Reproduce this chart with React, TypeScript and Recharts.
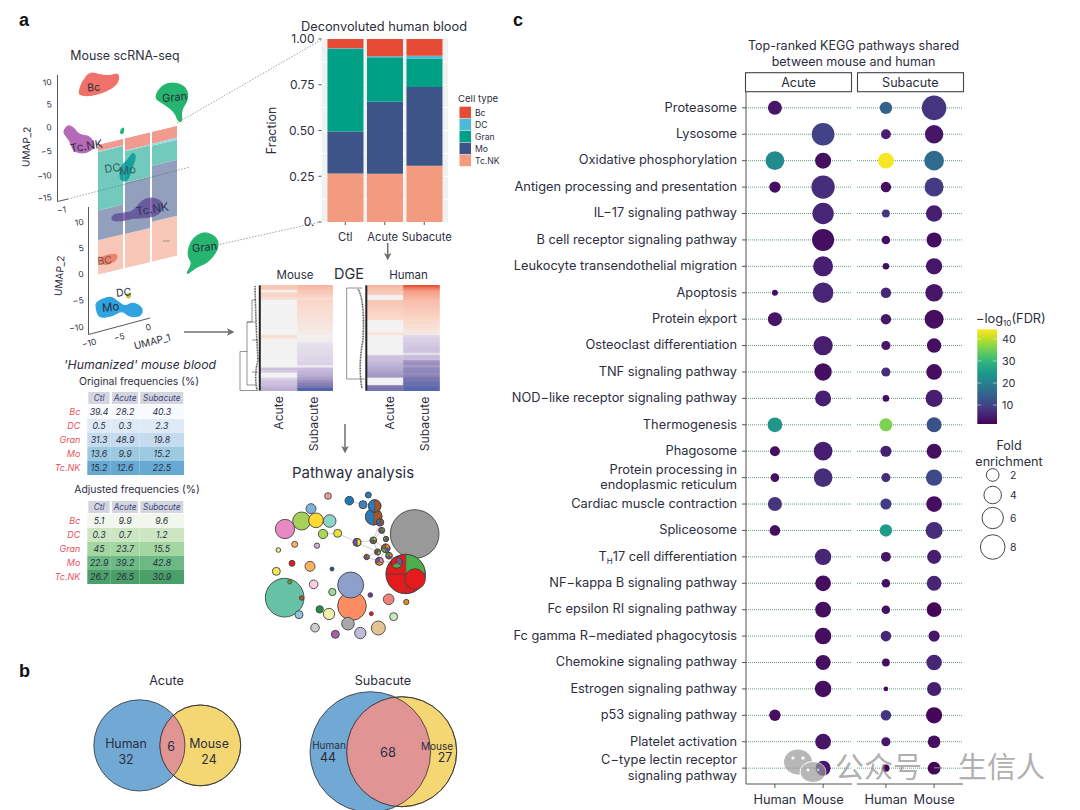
import React from 'react';
import {
  BarChart, Bar, XAxis, YAxis, ZAxis, CartesianGrid, ScatterChart, Scatter, Cell, ReferenceLine,
} from 'recharts';

const FONT = 'Inter, "Noto Sans", sans-serif';
const INK = '#2c2e3e';

// ---- stacked fractions
const groups = ['Ctl', 'Acute', 'Subacute'];
const tcnk = [0.265, 0.264, 0.308];
const mo = [0.23, 0.393, 0.43];
const gran = [0.45, 0.243, 0.155];
const dc = [0.005, 0.006, 0.016];
const bc = [0.05, 0.094, 0.091];
const fracTicks = [0, 0.25, 0.5, 0.75, 1];
const fracGrid = [0.125, 0.25, 0.375, 0.5, 0.625, 0.75, 0.875];
const cellTypes = ['Bc', 'DC', 'Gran', 'Mo', 'Tc.NK'];
const cellColors = ['#e64b35', '#4dbbd5', '#00a087', '#3c5488', '#f39b7f'];
const fracData = groups.map((name, i) => ({ name, tcnk: tcnk[i], mo: mo[i], gran: gran[i], dc: dc[i], bc: bc[i] }));

// ---- frequency tables
const tableRows = ['Bc', 'DC', 'Gran', 'Mo', 'Tc.NK'];
const tableCols = ['Ctl', 'Acute', 'Subacute'];
const origCtl = ['39.4', '0.5', '31.3', '13.6', '15.2'];
const origAcute = ['28.2', '0.3', '48.9', '9.9', '12.6'];
const origSub = ['40.3', '2.3', '19.8', '15.2', '22.5'];
const adjCtl = ['5.1', '0.3', '45', '22.9', '26.7'];
const adjAcute = ['9.9', '0.7', '23.7', '39.2', '26.5'];
const adjSub = ['9.6', '1.2', '15.5', '42.8', '30.9'];
const blues = ['#f7fbff', '#deebf7', '#c6dbef', '#9ecae1', '#66a9d3'];
const greens = ['#f1f7ec', '#cce6c4', '#a3d6a0', '#6cb985', '#4b9f69'];

// ---- heatmaps (row values, top to bottom)
const mouseAcute = [0.45, 0.45, 0.04, 0.35, 0.35, 0.25, 0, 0, 0, 0, 0, 0, 0, 0, 0, 0, 0, 0, 0, 0, 0.3, 0.1, 0, 0, 0, 0, 0, 0, 0, 0, 0, 0, 0, -0.3, -0.25, 0, 0, -0.2, -0.3, -0.3, -0.35, -0.4];
const mouseSub = [0.55, 0.5, 0.45, 0.42, 0.38, 0.3, 0.36, 0.34, 0.32, 0.3, 0.28, 0.26, 0.24, 0.22, 0.2, 0.18, 0.16, 0.14, 0.12, 0.1, 0.02, 0.06, -0.04, -0.1, -0.12, -0.13, -0.14, -0.15, -0.16, -0.17, -0.18, -0.2, -0.06, -0.32, -0.36, -0.38, -0.42, -0.48, -0.55, -0.62, -0.7, -0.95];
const humanAcute = [0.55, 0.5, 0.45, 0.42, 0, 0, 0.45, 0.44, 0.42, 0.4, 0.38, 0.36, 0.35, 0.34, 0, 0, 0, 0, 0, 0.22, 0, 0, 0, 0, 0, 0, 0, 0, -0.28, -0.3, -0.33, -0.36, -0.4, -0.42, -0.45, -0.48, -0.52, 0, 0, 0, -0.65, -0.72];
const humanSub = [0.95, 0.8, 0.7, 0.65, 0.6, 0.55, 0.5, 0.48, 0.46, 0.44, 0.42, 0.4, 0.38, 0.36, 0.34, 0.3, 0.26, 0.22, 0.18, 0.14, -0.16, -0.2, -0.22, -0.24, -0.26, -0.28, -0.3, -0.12, -0.34, -0.3, -0.52, -0.55, -0.5, -0.58, -0.6, -0.56, -0.62, -0.7, -0.74, -0.8, -0.86, -0.92];

// ---- KEGG dot plot
const pathways = [
  'Proteasome', 'Lysosome', 'Oxidative phosphorylation', 'Antigen processing and presentation',
  'IL\u221217 signaling pathway', 'B cell receptor signaling pathway', 'Leukocyte transendothelial migration',
  'Apoptosis', 'Protein export', 'Osteoclast differentiation', 'TNF signaling pathway',
  'NOD\u2212like receptor signaling pathway', 'Thermogenesis', 'Phagosome',
  'Protein processing in\nendoplasmic reticulum', 'Cardiac muscle contraction', 'Spliceosome',
  'TH17 cell differentiation', 'NF\u2212kappa B signaling pathway', 'Fc epsilon RI signaling pathway',
  'Fc gamma R\u2212mediated phagocytosis', 'Chemokine signaling pathway', 'Estrogen signaling pathway',
  'p53 signaling pathway', 'Platelet activation', 'C\u2212type lectin receptor\nsignaling pathway',
];
const N = null;
const acuteHumanFold = [2.5, N, 4.55, 1.57, N, N, N, 0.32, 2.5, N, N, N, 2.75, 1.2, 0.85, 2.5, 1.37, N, N, N, N, N, N, 1.6, N, N];
const acuteHumanFdr = [4, N, 22, 3, N, N, N, 3, 4, N, N, N, 24, 3, 3, 8, 3, N, N, N, N, N, N, 3, N, N];
const acuteMouseFold = [N, 6.8, 3.3, 7.2, 6.0, 6.4, 5.25, 5.6, N, 4.9, 3.9, 3.3, N, 4.55, 4.55, N, N, 3.5, 3.2, 3.2, 3.5, 2.9, 3.5, N, 3.2, 2.9];
const acuteMouseFdr = [N, 10, 3, 7, 6, 3, 5, 6, N, 5, 3, 5, N, 5, 7, N, N, 6, 3, 3, 3, 3, 3, N, 4, 4];
const subHumanFold = [2.0, 1.2, 3.3, 1.37, 0.7, 0.85, 0.44, 1.37, 1.37, 1.0, 1.0, 0.44, 2.24, 1.57, 1.0, 1.57, 2.0, 1.2, 0.85, 0.85, 1.4, 0.68, 0.13, 1.4, 1.0, 0.54];
const subHumanFdr = [15, 5, 44, 3, 8, 3, 3, 6, 4, 4, 7, 3, 36, 5, 7, 9, 25, 4, 3, 3, 6, 3, 3, 8, 4, 2];
const subMouseFold = [8.3, 4.55, 5.25, 4.9, 3.6, 3.0, 3.6, 4.2, 4.9, 2.75, 3.3, 3.9, 3.0, 3.0, 3.6, 3.3, 3.9, 2.6, 2.9, 2.9, 1.6, 3.2, 2.6, 3.5, 2.1, 2.1];
const subMouseFdr = [8, 4, 16, 9, 5, 3, 4, 4, 3, 3, 3, 5, 12, 3, 11, 3, 7, 5, 6, 2, 4, 6, 5, 2, 3, 2];
const foldLegend = [2, 4, 6, 8];
const fdrTicks = [40, 30, 20, 10];

const viridis = ['#440154', '#482173', '#433e85', '#38588c', '#2d708e', '#25858e', '#1e9b8a', '#2ab07f', '#51c56a', '#85d54a', '#c2df23', '#fde725'];

// ---- pathway network, in layout units
const networkNodes = [
  { x: 234, y: 108, d: 20, c: ['#ee9aa2'] }, { x: 298, y: 122, d: 26, c: ['#1f78b4'] }, { x: 355, y: 105, d: 18, c: ['#2b7bba'] },
  { x: 339, y: 134, d: 24, c: ['#3a85c0'] }, { x: 371, y: 170, d: 50, c: ['#a6562a', '#2b7bba'] }, { x: 374, y: 138, d: 38, c: ['#a6562a', '#2b7bba'] },
  { x: 390, y: 187, d: 22, c: ['#a6562a', '#7b4fa3', '#2b7bba'] }, { x: 395, y: 211, d: 18, c: ['#4daf4a', '#7b4fa3', '#a6562a'] },
  { x: 183, y: 146, d: 30, c: ['#7fb2d9'] }, { x: 155, y: 183, d: 54, c: ['#a6d05a'] }, { x: 239, y: 183, d: 38, c: ['#8dd3c7'] },
  { x: 198, y: 181, d: 44, c: ['#ffd92f'] }, { x: 105, y: 207, d: 58, c: ['#e78ac3'] }, { x: 219, y: 222, d: 28, c: ['#a6d854'] },
  { x: 263, y: 220, d: 24, c: ['#e8e23c'] }, { x: 134, y: 253, d: 18, c: ['#fdb462'] }, { x: 201, y: 257, d: 16, c: ['#c9b3dc'] },
  { x: 85, y: 270, d: 14, c: ['#f2ea82'] }, { x: 494, y: 222, d: 146, c: ['#999999'] },
  { x: 321, y: 247, d: 24, c: ['#e8e23c', '#7b4fa3'] }, { x: 370, y: 241, d: 20, c: ['#e8e23c', '#a6562a', '#7b4fa3', '#4daf4a'] },
  { x: 408, y: 237, d: 16, c: ['#a6562a', '#7b4fa3', '#4daf4a'] }, { x: 407, y: 265, d: 26, c: ['#e8891c', '#7b4fa3', '#4daf4a', '#a6562a'] },
  { x: 383, y: 276, d: 18, c: ['#4daf4a', '#e8e23c', '#7b4fa3', '#a6562a'] }, { x: 417, y: 287, d: 20, c: ['#e8891c', '#7b4fa3', '#4daf4a'] },
  { x: 350, y: 291, d: 16, c: ['#e8891c', '#7b4fa3', '#a6562a'] }, { x: 388, y: 304, d: 24, c: ['#e78ac3', '#e8891c', '#7b4fa3'] },
  { x: 79, y: 334, d: 24, c: ['#f2e65a'] }, { x: 126, y: 310, d: 18, c: ['#e41a1c'] }, { x: 180, y: 319, d: 30, c: ['#fbb25e'] },
  { x: 246, y: 327, d: 12, c: ['#2c4a9e'] }, { x: 467, y: 342, d: 118, c: ['#4daf4a', '#e41a1c', '#e41a1c', '#e41a1c'] },
  { x: 495, y: 357, d: 62, c: ['#e41a1c'] }, { x: 440, y: 308, d: 34, c: ['#7b4fa3', '#4daf4a', '#e41a1c'] },
  { x: 191, y: 373, d: 26, c: ['#fccde5'] }, { x: 104, y: 413, d: 116, c: ['#66c2a5'] }, { x: 119, y: 366, d: 12, c: ['#66a61e'] },
  { x: 155, y: 414, d: 14, c: ['#a6562a'] }, { x: 147, y: 464, d: 24, c: ['#8ec4e0'] }, { x: 306, y: 438, d: 86, c: ['#fc8d62'] },
  { x: 302, y: 375, d: 78, c: ['#8da0cb'] }, { x: 247, y: 396, d: 22, c: ['#a1d99b'] }, { x: 361, y: 405, d: 14, c: ['#6a3d9a'] },
  { x: 416, y: 418, d: 32, c: ['#f4807a'] }, { x: 469, y: 426, d: 16, c: ['#e8891c'] }, { x: 364, y: 461, d: 12, c: ['#e41a1c'] },
  { x: 431, y: 470, d: 24, c: ['#c7e9c0'] }, { x: 209, y: 448, d: 22, c: ['#238b45'] }, { x: 237, y: 462, d: 34, c: ['#eef0a8'] },
  { x: 294, y: 491, d: 38, c: ['#a8a8a8'] }, { x: 195, y: 503, d: 26, c: ['#cccccc'] }, { x: 256, y: 523, d: 24, c: ['#a65fa8'] },
  { x: 331, y: 519, d: 34, c: ['#bebada'] }, { x: 385, y: 504, d: 42, c: ['#e5c494'] },
];
const networkEdges = [
  [263, 220, 321, 247], [321, 247, 370, 241], [370, 241, 395, 211], [370, 241, 407, 265], [370, 241, 383, 276], [395, 211, 408, 237],
  [408, 237, 407, 265], [383, 276, 407, 265], [383, 276, 350, 291], [383, 276, 388, 304], [407, 265, 388, 304], [350, 291, 388, 304],
  [417, 287, 407, 265], [388, 304, 440, 308], [298, 122, 339, 134], [390, 187, 370, 241], [219, 222, 263, 220], [321, 247, 383, 276],
];

// ---- Venn counts
const vennAcute = { human: 32, shared: 6, mouse: 24 };
const vennSub = { human: 44, shared: 68, mouse: 27 };

const mixHex = (a: string, b: string, t: number) => {
  const p = (s: string, i: number) => parseInt(s.slice(i, i + 2), 16);
  const ch = (i: number) => Math.round(p(a, i) + (p(b, i) - p(a, i)) * t).toString(16).padStart(2, '0');
  return `#${ch(1)}${ch(3)}${ch(5)}`;
};
const ramp = (stops: string[], t: number) => {
  const u = Math.min(0.9999, Math.max(0, t)) * (stops.length - 1);
  const i = Math.floor(u);
  return mixHex(stops[i], stops[i + 1], u - i);
};
const fdrColor = (v: number) => ramp(viridis, (v - 1.4) / 43);
const heatColor = (v: number) => {
  if (v >= 0) return ramp(['#f3f3f3', '#fad9cc', '#f7a58e', '#e8432e'], v);
  return ramp(['#f3f3f3', '#c9bbdc', '#7f78b0', '#4a62ac'], -v);
};

const rowPoints = (fold: (number | null)[], fdr: (number | null)[], col: number) =>
  pathways.map((_, i) => ({ x: col, y: i, fold: fold[i], fdr: fdr[i] })).filter((p) => p.fold != null);

const Dot = (props: any) => {
  const { cx, cy, size, payload } = props;
  return <circle cx={cx} cy={cy} r={Math.sqrt(size / Math.PI)} fill={fdrColor(payload.fdr)} />;
};

const PathwayTick = (props: any) => {
  const { x, y, payload } = props;
  const label = pathways[payload.value];
  if (label == null) return null;
  const common = { x: x - 3, textAnchor: 'end' as const, fontSize: 12.8, fill: INK, fontFamily: FONT };
  if (label.startsWith('TH17')) {
    return (
      <text {...common} y={y + 3.8}>
        T<tspan fontSize={8} dy={3}>H</tspan><tspan dy={-3}>17 cell differentiation</tspan>
      </text>
    );
  }
  const lines = label.split('\n');
  if (lines.length === 2) {
    return (
      <g>
        <text {...common} y={y - 4}>{lines[0]}</text>
        <text {...common} y={y + 11.5}>{lines[1]}</text>
      </g>
    );
  }
  return <text {...common} y={y + 3.8}>{label}</text>;
};

// the group labels sit a little apart from their ticks in the figure
const groupNudge = [0, -2, 2.5];
const GroupTick = (props: any) => {
  const { x, y, payload, index } = props;
  return (
    <text x={x + groupNudge[index]} y={y + 14} textAnchor="middle" fontSize={11.2} fill={INK} fontFamily={FONT}>
      {payload.value}
    </text>
  );
};

const rowIndex = pathways.map((_, i) => i);
const gridColor = '#5f9f78';

const DotPanel = ({ series, showLabels, left, width }: any) => (
  <div style={{ position: 'absolute', left, top: 91.5 }}>
    <ScatterChart width={width} height={716} margin={{ top: 0, right: 0, bottom: 0, left: 0 }}>
      <CartesianGrid horizontal vertical={false} stroke={gridColor} strokeDasharray="1 1" horizontalValues={rowIndex} />
      <XAxis
        type="number" dataKey="x" domain={[-0.6, 1.6]} ticks={[0, 1]} interval={0} height={24}
        tickFormatter={(v: number) => (v === 0 ? 'Human' : 'Mouse')} tickMargin={7}
        tick={{ fontSize: 12.8, fill: INK, fontFamily: FONT }} stroke="#555" tickSize={4}
      />
      <YAxis
        type="number" dataKey="y" domain={[-0.6, 25.6]} reversed ticks={rowIndex} interval={0}
        width={showLabels ? 246 : 0} hide={!showLabels} stroke="#555" tickSize={4} tick={<PathwayTick />}
      />
      <ZAxis type="number" dataKey="fold" domain={[0, 8]} range={[9.4, 474]} />
      {series.map((s: any, i: number) => (
        <Scatter key={i} data={s} shape={<Dot />} isAnimationActive={false} />
      ))}
    </ScatterChart>
  </div>
);

const HeatMap = ({ left, a, b }: any) => {
  const data = a.map((v: number, i: number) => ({ row: i, a: 1, b: 1 }));
  return (
    <div style={{ position: 'absolute', left, top: 285.3 }}>
      <BarChart width={72.7} height={105.4} layout="vertical" data={data} barCategoryGap={0} margin={{ top: 0, right: 0, bottom: 0, left: 0 }}>
        <XAxis type="number" domain={[0, 2]} hide />
        <YAxis type="category" dataKey="row" hide />
        <Bar dataKey="a" stackId="h" isAnimationActive={false}>
          {a.map((v: number, i: number) => <Cell key={i} fill={heatColor(v)} stroke={heatColor(v)} strokeWidth={0.3} />)}
        </Bar>
        <Bar dataKey="b" stackId="h" isAnimationActive={false}>
          {b.map((v: number, i: number) => <Cell key={i} fill={heatColor(v)} stroke={heatColor(v)} strokeWidth={0.3} />)}
        </Bar>
      </BarChart>
    </div>
  );
};

const colWidths = [23.5, 28.5, 45];
const FreqTable = ({ top, cols, shades }: any) => {
  const rows = ['', ...tableRows];
  const data = rows.map((name) => ({ name, c0: colWidths[0], c1: colWidths[1], c2: colWidths[2] }));
  return (
    <div style={{ position: 'absolute', left: 30, top }}>
      <BarChart width={154.3} height={84} layout="vertical" data={data} barCategoryGap={0} margin={{ top: 0, right: 0, bottom: 0, left: 0 }}>
        <XAxis type="number" domain={[0, 97]} hide />
        <YAxis
          type="category" dataKey="name" width={57.3} axisLine={false} tickLine={false} interval={0} tickMargin={1}
          tick={{ fontSize: 9, fontStyle: 'italic', fill: '#e8505b', fontFamily: FONT }}
        />
        {[0, 1, 2].map((c) => (
          <Bar
            key={c} dataKey={`c${c}`} stackId="t" isAnimationActive={false}
            label={(p: any) => {
              const isHead = p.index === 0;
              const text = isHead ? tableCols[c] : cols[c][p.index - 1];
              return (
                <text
                  x={p.x + p.width / 2} y={p.y + p.height / 2 + 3} textAnchor="middle" fontSize={isHead ? 8.3 : 8.8}
                  fontStyle="italic" fill={isHead ? '#45467a' : '#2c2e3e'} fontFamily={FONT}
                >{text}</text>
              );
            }}
          >
            {rows.map((_, i) => (
              i === 0
                ? <Cell key={i} fill="#d3d6df" stroke="#fff" strokeWidth={2} />
                : <Cell key={i} fill={shades[i - 1]} />
            ))}
          </Bar>
        ))}
      </BarChart>
    </div>
  );
};

const Txt = ({ x, y, s = 12, a = 'middle', rot, children, ...rest }: any) => (
  <text
    x={x} y={y} fontSize={s} textAnchor={a} fill={INK} fontFamily={FONT}
    transform={rot != null ? `rotate(${rot} ${x} ${y})` : undefined} {...rest}
  >{children}</text>
);

// rounded outline through hand-placed points, used for the UMAP clusters
const Blob = ({ pts, fill }: { pts: number[][]; fill: string }) => {
  const mid = (a: number[], b: number[]) => [(a[0] + b[0]) / 2, (a[1] + b[1]) / 2];
  const start = mid(pts[pts.length - 1], pts[0]);
  let d = `M${start[0]} ${start[1]}`;
  pts.forEach((p, i) => {
    const m = mid(p, pts[(i + 1) % pts.length]);
    d += ` Q${p[0]} ${p[1]} ${m[0]} ${m[1]}`;
  });
  return <path d={d + ' Z'} fill={fill} stroke={fill} strokeWidth={1.2} />;
};

const layer: React.CSSProperties = { position: 'absolute', left: 0, top: 0, pointerEvents: 'none' };

const UnderLayer = () => (
  <svg width={1080} height={810} style={layer}>
    {/* projection guides */}
    <g stroke="#888" strokeDasharray="1.5 1.5" strokeWidth={0.8} fill="none">
      <path d="M177 123 L321 40" />
      <path d="M68 199 L190 167" />
      <path d="M217 245 L320 222" />
    </g>
    {/* upper UMAP */}
    <path d="M57.5 75 V201.5 L68 199" stroke="#444" strokeWidth={0.9} fill="none" />
    {[[81.7, '10'], [104, '5'], [127, '0'], [150.7, '\u22125'], [175, '\u221210'], [197, '\u221215']].map(([y, t]: any) => (
      <Txt key={t} x={52} y={y + 3} s={8.5} a="end" rot={-8}>{t}</Txt>
    ))}
    <Txt x={62} y={213} s={8.5} rot={-8}>{'\u22121'}</Txt>
    <Txt x={30} y={147} s={10} rot={-88}>UMAP_2</Txt>
    <Blob fill="#f0706a" pts={[[79, 92], [82, 82], [90, 72], [100, 75], [110, 76], [119, 73], [118, 84], [105, 92], [90, 96], [80, 95]]} />
    <Blob fill="#25b56f" pts={[[154, 98], [162, 85], [175, 82], [187, 88], [188, 100], [181, 110], [182, 122], [178, 121], [175, 112], [163, 103]]} />
    <Blob fill="#b56ab8" pts={[[64, 130], [68, 125], [74, 128], [79, 135], [90, 136], [96, 147], [84, 154], [73, 151], [70, 140], [64, 134]]} />
    <Blob fill="#25b56f" pts={[[122, 128], [124, 128], [123, 134], [120, 133]]} />
    {/* lower UMAP */}
    <path d="M88.5 207 V334.5 L150 318" stroke="#444" strokeWidth={0.9} fill="none" />
    {[[221.7, '10'], [247.7, '5'], [273.7, '0'], [300, '\u22125'], [326.7, '\u221210']].map(([y, t]: any) => (
      <Txt key={t} x={84} y={y + 3} s={8.5} a="end" rot={-8}>{t}</Txt>
    ))}
    <Txt x={90} y={346} s={8.5} rot={-15}>{'\u221210'}</Txt>
    <Txt x={120} y={340} s={8.5} rot={-15}>{'\u22125'}</Txt>
    <Txt x={149} y={330} s={8.5} rot={-15}>0</Txt>
    <Txt x={153} y={345} s={10} rot={-14}>UMAP_1</Txt>
    <Txt x={63} y={276} s={10} rot={-86}>UMAP_2</Txt>
    <Blob fill="#25b56f" pts={[[185, 276], [193, 263], [187, 256], [191, 240], [204, 231], [218, 238], [218, 250], [207, 263], [196, 267]]} />
    <Blob fill="#2fa4e0" pts={[[96, 302], [110, 296], [117, 301], [125, 307], [133, 302], [143, 308], [141, 316], [130, 317], [122, 310], [113, 316], [99, 318], [96, 308]]} />
    <Blob fill="#b6c23a" pts={[[126, 294], [131, 293], [130, 298], [127, 298]]} />
    <Blob fill="#9a6ab8" pts={[[112, 215], [122, 213], [133, 212], [142, 200], [153, 197], [164, 203], [160, 214], [148, 218], [133, 218], [122, 221], [112, 221]]} />
    <Blob fill="#30a5b5" pts={[[120, 167], [128, 160], [133, 152], [136, 157], [132, 167], [128, 181], [120, 181]]} />
    <Blob fill="#e06a5e" pts={[[100, 257], [117, 253], [117, 260], [107, 265], [100, 263]]} />
    <path d="M163 241 L170 241" stroke="#4b8f5a" strokeWidth={1} />
  </svg>
);

const TopLayer = () => (
  <svg width={1080} height={810} style={layer}>
    <defs>
      <linearGradient id="fdr" x1="0" y1="1" x2="0" y2="0">
        {viridis.map((c, i) => <stop key={c} offset={i / (viridis.length - 1)} stopColor={c} />)}
      </linearGradient>
      <clipPath id="vennA"><circle cx={200.3} cy={745.4} r={40.4} /></clipPath>
      <clipPath id="vennS"><circle cx={401.7} cy={751.7} r={55} /></clipPath>
      <marker id="arrow" markerWidth="5" markerHeight="5" refX="3.4" refY="2.5" orient="auto">
        <path d="M0 0 L5 2.5 L0 5 L1.2 2.5 Z" fill="#6f6f6f" />
      </marker>
    </defs>

    <text x={19} y={26} fontSize={18} fontWeight={700} fontFamily="Liberation Sans, sans-serif" fill="#111">a</text>
    <text x={19} y={677} fontSize={18} fontWeight={700} fontFamily="Liberation Sans, sans-serif" fill="#111">b</text>
    <text x={513} y={26} fontSize={18} fontWeight={700} fontFamily="Liberation Sans, sans-serif" fill="#111">c</text>

    {/* UMAP titles and cluster names */}
    <Txt x={125} y={60} s={12.4}>Mouse scRNA-seq</Txt>
    <Txt x={94} y={91} s={10.5} rot={-5}>Bc</Txt>
    <Txt x={175} y={101} s={11} rot={-6}>Gran</Txt>
    <Txt x={87} y={150} s={11.5} rot={-9}>Tc.NK</Txt>
    <Txt x={113} y={172} s={11} fill="#2f5a58" rot={-8}>DC</Txt>
    <Txt x={128} y={174} s={11} fill="#2f5a58" rot={-8}>Mo</Txt>
    <Txt x={153} y={213} s={11.5} rot={-9} fill="#2b3555">Tc.NK</Txt>
    <Txt x={105} y={264} s={10.5} rot={-5} fill="#8a4b45">BC</Txt>
    <Txt x={205} y={251} s={11} rot={-6}>Gran</Txt>
    <Txt x={111} y={311} s={11.5} rot={-6}>Mo</Txt>
    <Txt x={124} y={296} s={10.5} rot={-6}>DC</Txt>

    <Txt x={384} y={30.5} s={12.8}>Deconvoluted human blood</Txt>

    {/* stacked bar legend */}
    <Txt x={458} y={102} s={9.6} a="start">Cell type</Txt>
    {cellTypes.map((t, i) => (
      <g key={t}>
        <rect x={459.5} y={106.7 + i * 12} width={11.5} height={11.5} fill={cellColors[i]} />
        <Txt x={475} y={115.5 + i * 12} s={8.6} a="start">{t}</Txt>
      </g>
    ))}
    <path d="M387.7 243 V258" stroke="#6f6f6f" strokeWidth={1.5} markerEnd="url(#arrow)" />
    <path d="M184 332 H232" stroke="#6f6f6f" strokeWidth={1.5} markerEnd="url(#arrow)" />
    <path d="M345 424 V451" stroke="#6f6f6f" strokeWidth={1.5} markerEnd="url(#arrow)" />

    {/* DGE */}
    <Txt x={295} y={279} s={11.5}>Mouse</Txt>
    <Txt x={349} y={279} s={14.5}>DGE</Txt>
    <Txt x={408.5} y={279} s={11.5}>Human</Txt>
    <Txt x={283} y={413} s={12.2} rot={-90}>Acute</Txt>
    <Txt x={318} y={424} s={12.2} rot={-90}>Subacute</Txt>
    <Txt x={393.5} y={413} s={12.2} rot={-90}>Acute</Txt>
    <Txt x={429} y={424} s={12.2} rot={-90}>Subacute</Txt>
    <g stroke="#666" strokeWidth={0.7} fill="none">
      <path d="M258 390.5 H240 V351.5 H247 V322 H256 M247 351 V385 H256 M247 322 H252 V300 H256 M252 340 H258 M252 372 H258" />
      <path d="M365 379 H346.7 V288 H362" />
    </g>
    <g stroke="#555" strokeWidth={1.6} fill="none" strokeDasharray="1 0.6">
      <path d="M255 286 Q256 330 258 360 Q254 375 257 390" />
      <path d="M358 289 Q365 300 363 340 Q358 365 362 389" />
    </g>
    <rect x={258.8} y={285.3} width={2} height={105.4} fill="#222" />
    <rect x={365.3} y={285.3} width={2} height={105.4} fill="#222" />

    <Txt x={353} y={478} s={15}>Pathway analysis</Txt>

    {/* tables headings */}
    <Txt x={140} y={369} s={12.3} fontStyle="italic">'Humanized' mouse blood</Txt>
    <Txt x={139} y={384.5} s={10.4}>Original frequencies (%)</Txt>
    <Txt x={137} y={493} s={10.4}>Adjusted frequencies (%)</Txt>

    {/* Venn b */}
    <Txt x={166.5} y={685} s={12.6}>Acute</Txt>
    <circle cx={139.4} cy={745.4} r={45.6} fill="#72a9d4" stroke="#333" strokeWidth={0.8} />
    <circle cx={200.3} cy={745.4} r={40.4} fill="#f4d772" stroke="#333" strokeWidth={0.8} />
    <circle cx={139.4} cy={745.4} r={45.6} fill="#e09494" stroke="#333" strokeWidth={0.8} clipPath="url(#vennA)" />
    <circle cx={200.3} cy={745.4} r={40.4} fill="none" stroke="#333" strokeWidth={0.8} />
    <Txt x={126} y={748} s={12.4}>Human</Txt>
    <Txt x={126} y={763.5} s={12.4}>{vennAcute.human}</Txt>
    <Txt x={171} y={751} s={12.4}>{vennAcute.shared}</Txt>
    <Txt x={209} y={748} s={12.4}>Mouse</Txt>
    <Txt x={209} y={763.5} s={12.4}>{vennAcute.mouse}</Txt>
    <Txt x={383} y={685} s={12.6}>Subacute</Txt>
    <circle cx={370.3} cy={752} r={60.3} fill="#72a9d4" stroke="#333" strokeWidth={0.8} />
    <circle cx={401.7} cy={751.7} r={55} fill="#f4d772" stroke="#333" strokeWidth={0.8} />
    <circle cx={370.3} cy={752} r={60.3} fill="#e09494" stroke="#333" strokeWidth={0.8} clipPath="url(#vennS)" />
    <circle cx={401.7} cy={751.7} r={55} fill="none" stroke="#333" strokeWidth={0.8} />
    <Txt x={329} y={749} s={10}>Human</Txt>
    <Txt x={328} y={762} s={12.4}>{vennSub.human}</Txt>
    <Txt x={388} y={757} s={12.8}>{vennSub.shared}</Txt>
    <Txt x={437} y={750} s={10}>Mouse</Txt>
    <Txt x={445} y={762} s={12.4}>{vennSub.mouse}</Txt>

    {/* c headers */}
    <Txt x={853.5} y={50} s={12.5}>Top-ranked KEGG pathways shared</Txt>
    <Txt x={853.5} y={65.5} s={12.5}>between mouse and human</Txt>
    <rect x={745.5} y={72.7} width={106} height={19} fill="#fff" stroke="#444" strokeWidth={1.1} />
    <rect x={857.5} y={72.7} width={106} height={19} fill="#fff" stroke="#444" strokeWidth={1.1} />
    <Txt x={798.5} y={86.5} s={12.6}>Acute</Txt>
    <Txt x={910.3} y={86.5} s={12.6}>Subacute</Txt>
    <path d="M705.7 309 V325" stroke="#777" strokeWidth={0.8} />

    {/* colour bar */}
    <Txt x={976} y={323} s={12.8} a="start">
      {'\u2212log'}<tspan fontSize={8} dy={3}>10</tspan><tspan dy={-3}>(FDR)</tspan>
    </Txt>
    <rect x={977.3} y={329.3} width={19.7} height={94.7} fill="url(#fdr)" />
    {fdrTicks.map((t) => {
      const y = 424 - ((t - 1.4) / 43) * 94.7;
      return (
        <g key={t}>
          <path d={`M977.3 ${y} h4 M993 ${y} h4`} stroke="#fff" strokeOpacity={0.7} strokeWidth={0.7} />
          <Txt x={1002} y={y + 4} s={10.8} a="start">{t}</Txt>
        </g>
      );
    })}
    <Txt x={1009} y={450} s={12.6}>Fold</Txt>
    <Txt x={1009} y={466} s={12.6}>enrichment</Txt>
    {foldLegend.map((f, i) => {
      const y = [475, 495, 518, 547][i];
      return (
        <g key={f}>
          <circle cx={992.7} cy={y} r={Math.sqrt(3 + f * 18.5)} fill="#fff" stroke="#333" strokeWidth={0.9} />
          <Txt x={1010} y={y + 4} s={10.4} a="start">{f}</Txt>
        </g>
      );
    })}

    {/* watermark */}
    <g opacity={0.7}>
      <ellipse cx={798} cy={762} rx={14} ry={12.5} fill="#9a9a9a" />
      <ellipse cx={813} cy={772} rx={13} ry={10.5} fill="#9a9a9a" stroke="#fff" strokeWidth={1} />
      <circle cx={793} cy={758} r={1.6} fill="#fff" /><circle cx={803} cy={758} r={1.6} fill="#fff" />
      <circle cx={808} cy={770} r={1.4} fill="#fff" /><circle cx={818} cy={770} r={1.4} fill="#fff" />
      <text x={835} y={778} fontSize={29} fill="#8f8f8f" fontFamily="Noto Sans CJK SC">公众号</text>
      <rect x={934} y={767} width={8} height={1.5} fill="#8f8f8f" />
      <text x={958} y={778} fontSize={29} fill="#8f8f8f" fontFamily="Noto Sans CJK SC">生信人</text>
    </g>
  </svg>
);

const networkEdgeStyle = { stroke: '#cfcfcf', strokeWidth: 1 };

const NetNode = (props: any) => {
  const { cx, cy, payload } = props;
  const r = payload.d / 6;
  const cols: string[] = payload.c;
  if (cols.length === 1) return <circle cx={cx} cy={cy} r={r} fill={cols[0]} stroke="#444" strokeWidth={0.9} />;
  const step = (2 * Math.PI) / cols.length;
  return (
    <g>
      {cols.map((col, i) => {
        const a0 = -Math.PI / 2 + i * step;
        const a1 = a0 + step;
        const d = `M${cx} ${cy} L${cx + r * Math.cos(a0)} ${cy + r * Math.sin(a0)} A${r} ${r} 0 ${step > Math.PI ? 1 : 0} 1 ${cx + r * Math.cos(a1)} ${cy + r * Math.sin(a1)} Z`;
        return <path key={i} d={d} fill={col} stroke="#444" strokeWidth={0.6} />;
      })}
      <circle cx={cx} cy={cy} r={r} fill="none" stroke="#444" strokeWidth={0.9} />
    </g>
  );
};

export default function App() {
  return (
    <div style={{ position: 'absolute', left: 0, top: 0, width: 1080, height: 810, background: '#fff', overflow: 'hidden' }}>
      <UnderLayer />

      {/* perspective copy of the composition bars */}
      <div style={{ position: 'absolute', left: 96.7, top: 145, opacity: 0.55, transform: 'skewY(-13.5deg)', transformOrigin: '0 0' }}>
        <BarChart width={81} height={130} data={fracData} barCategoryGap="3.7%" margin={{ top: 0, right: 0, bottom: 0, left: 0 }}>
          <XAxis dataKey="name" hide />
          <YAxis domain={[0, 1]} hide />
          <Bar dataKey="tcnk" stackId="s" fill={cellColors[4]} isAnimationActive={false} />
          <Bar dataKey="mo" stackId="s" fill={cellColors[3]} isAnimationActive={false} />
          <Bar dataKey="gran" stackId="s" fill={cellColors[2]} isAnimationActive={false} />
          <Bar dataKey="dc" stackId="s" fill={cellColors[1]} isAnimationActive={false} />
          <Bar dataKey="bc" stackId="s" fill={cellColors[0]} isAnimationActive={false} />
        </BarChart>
      </div>

      {/* deconvoluted human blood */}
      <div style={{ position: 'absolute', left: 258, top: 29.3 }}>
        <BarChart width={206} height={217} data={fracData} barCategoryGap="5%" margin={{ top: 10, right: 16, bottom: 0, left: 0 }}>
          <CartesianGrid vertical={false} stroke="#fff" fill="#f0f1f1" horizontalValues={fracGrid} />
          <XAxis
            dataKey="name" height={24} stroke="#555" axisLine={false} tickSize={3} interval={0} padding={{ left: 4, right: 4 }}
            tick={<GroupTick />}
          />
          <YAxis
            domain={[0, 1]} ticks={fracTicks} interval={0} width={63.5} axisLine={false} stroke="#555" tickSize={3} tickMargin={4}
            tickFormatter={(v: number) => (v === 0 ? '0.' : v.toFixed(2))}
            tick={{ fontSize: 12, fill: INK, fontFamily: FONT }}
            label={{ value: 'Fraction', angle: -90, position: 'insideLeft', offset: 14, style: { fontSize: 12.4, fill: INK, fontFamily: FONT, textAnchor: 'middle' } }}
          />
          <Bar dataKey="tcnk" stackId="s" fill={cellColors[4]} isAnimationActive={false} />
          <Bar dataKey="mo" stackId="s" fill={cellColors[3]} isAnimationActive={false} />
          <Bar dataKey="gran" stackId="s" fill={cellColors[2]} isAnimationActive={false} />
          <Bar dataKey="dc" stackId="s" fill={cellColors[1]} isAnimationActive={false} />
          <Bar dataKey="bc" stackId="s" fill={cellColors[0]} isAnimationActive={false} />
        </BarChart>
      </div>

      <HeatMap left={260.7} a={mouseAcute} b={mouseSub} />
      <HeatMap left={367.3} a={humanAcute} b={humanSub} />

      <FreqTable top={391} cols={[origCtl, origAcute, origSub]} shades={blues} />
      <FreqTable top={500} cols={[adjCtl, adjAcute, adjSub]} shades={greens} />

      {/* pathway network */}
      <div style={{ position: 'absolute', left: 250, top: 460 }}>
        <ScatterChart width={220} height={190} margin={{ top: 0, right: 0, bottom: 0, left: 0 }}>
          <XAxis type="number" dataKey="x" domain={[0, 660]} hide />
          <YAxis type="number" dataKey="y" domain={[0, 570]} reversed hide />
          {networkEdges.map(([x1, y1, x2, y2], i) => (
            <ReferenceLine key={i} segment={[{ x: x1, y: y1 }, { x: x2, y: y2 }]} {...networkEdgeStyle} />
          ))}
          <Scatter data={networkNodes} shape={<NetNode />} isAnimationActive={false} />
        </ScatterChart>
      </div>

      {/* KEGG dot plot */}
      <DotPanel
        left={500} width={352} showLabels
        series={[rowPoints(acuteHumanFold, acuteHumanFdr, 0), rowPoints(acuteMouseFold, acuteMouseFdr, 1)]}
      />
      <DotPanel
        left={857} width={106} showLabels={false}
        series={[rowPoints(subHumanFold, subHumanFdr, 0), rowPoints(subMouseFold, subMouseFdr, 1)]}
      />

      <TopLayer />
    </div>
  );
}
